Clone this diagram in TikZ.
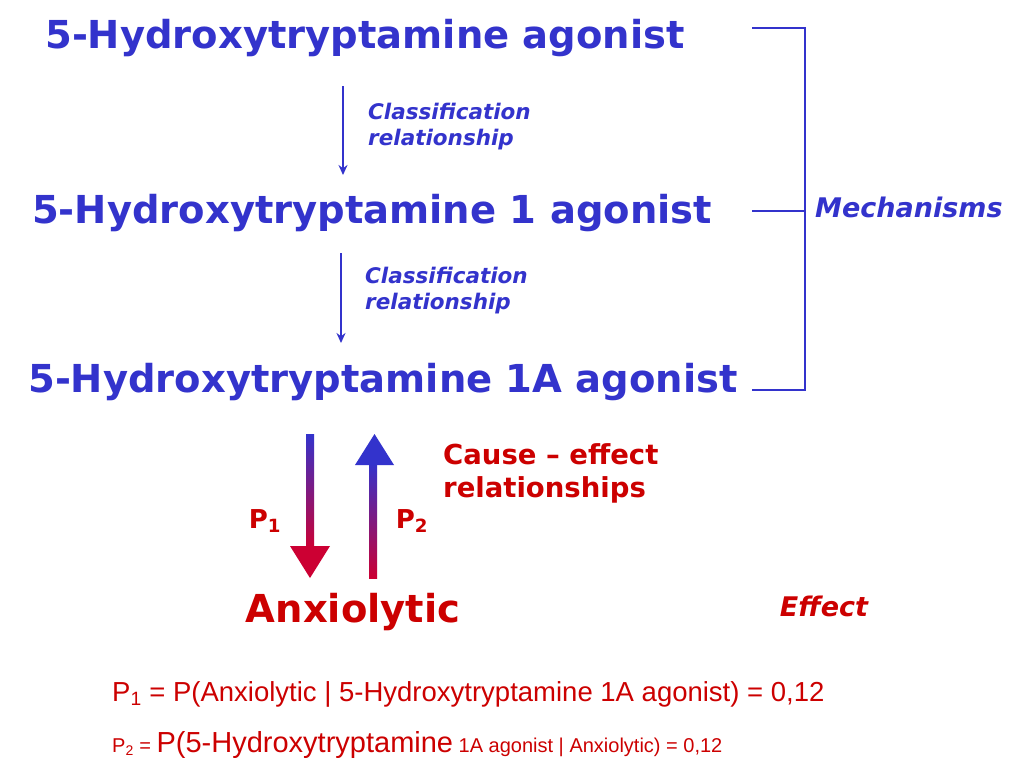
\documentclass[tikz,border=0pt]{standalone}
\usepackage{fontspec}
\usetikzlibrary{arrows.meta}
\setmainfont{DejaVu Sans}
\newfontfamily\arialf{Liberation Sans}
\begin{document}
\definecolor{bl}{RGB}{51,51,204}
\definecolor{rd}{RGB}{204,0,0}
\definecolor{ar}{RGB}{204,0,51}
\begin{tikzpicture}[x=1pt,y=-1pt,
 title/.style={text=bl,font=\bfseries\fontsize{38.5}{40}\selectfont,inner sep=0},
 lab/.style={text=bl,font=\bfseries\itshape\fontsize{21.5}{26}\selectfont,align=left,anchor=west,inner sep=0},
 red/.style={text=rd,font=\bfseries\fontsize{26}{30}\selectfont,inner sep=0},
 ln/.style={bl,line width=2.5pt},
 arr/.style={bl,line width=2pt,-{Stealth[length=10pt,width=9pt]}}]
\useasboundingbox (0,0) rectangle (1024,766);
\fill[white] (0,0) rectangle (1024,766);
\node[title] (t1) at (365,38) {5-Hydroxytryptamine agonist};
\node[title] (t2) at (372,213) {5-Hydroxytryptamine 1 agonist};
\node[title] (t3) at (383,382) {5-Hydroxytryptamine 1A agonist};
\coordinate (a1s) at (343,86); \coordinate (a1e) at (343,175);
\coordinate (a2s) at (341,253); \coordinate (a2e) at (341,343);
\draw[arr] (a1s) -- (a1e);
\draw[arr] (a2s) -- (a2e);
\node[lab] (l1) at (368,127) {Classification\\relationship};
\node[lab] (l2) at (365,291) {Classification\\relationship};
% bracket
\coordinate (b1) at (752,28); \coordinate (b2) at (805,28);
\coordinate (b3) at (805,390); \coordinate (b4) at (752,390);
\coordinate (m1) at (752,211); \coordinate (m2) at (805,211);
\draw[ln] (b1) -- (b2) -- (b3) -- (b4);
\draw[ln] (m1) -- (m2);
\node[text=bl,font=\bfseries\itshape\fontsize{27}{30}\selectfont,anchor=west,inner sep=0] (mech) at (815,207) {Mechanisms};
% gradient arrows
\shade[top color=bl,bottom color=ar] (306,434) rectangle (314,548);
\fill[ar] (290,546) -- (330,546) -- (310,578) -- cycle;
\shade[top color=bl,bottom color=ar] (369,463) rectangle (377,578);
\fill[bl] (355,465) -- (394,465) -- (374.5,434) -- cycle;
\node[red,anchor=center] (p1) at (265,521) {P\textsubscript{1}};
\node[red,anchor=center] (p2) at (412,521) {P\textsubscript{2}};
\node[red,anchor=west,align=left,font=\bfseries\fontsize{27.5}{33}\selectfont] (ce) at (443,473) {Cause – effect\\relationships};
\node[text=rd,font=\bfseries\fontsize{38.5}{40}\selectfont,inner sep=0] (anx) at (353,612) {Anxiolytic};
\node[text=rd,font=\bfseries\itshape\fontsize{27}{30}\selectfont,inner sep=0] (eff) at (824,606) {Effect};
\node[text=rd,anchor=west,inner sep=0,font=\arialf\fontsize{27.5}{30}\selectfont] (f1) at (112,694) {P\textsubscript{1} = P(Anxiolytic | 5-Hydroxytryptamine 1A agonist) = 0,12};
\node[text=rd,anchor=west,inner sep=0,font=\arialf\fontsize{20}{24}\selectfont] (f2) at (112,745) {P\textsubscript{2} = {\fontsize{29}{30}\selectfont P(5-Hydroxytryptamine} 1A agonist | Anxiolytic) = 0,12};
\end{tikzpicture}
\end{document}
